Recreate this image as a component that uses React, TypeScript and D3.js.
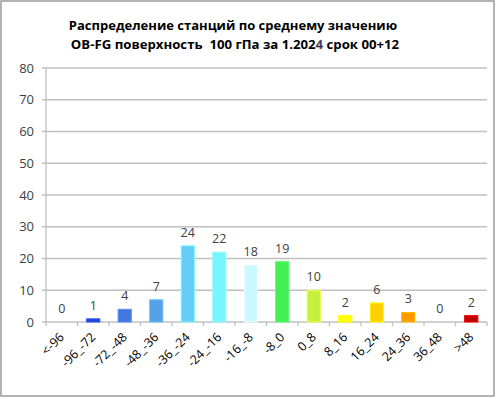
import React, { useEffect, useRef } from "react";
import * as d3 from "d3";

const categories = ["<-96", "-96_-72", "-72_-48", "-48_-36", "-36_-24", "-24_-16", "-16_-8", "-8_0", "0_8", "8_16", "16_24", "24_36", "36_48", ">48"];
const counts = [0, 1, 4, 7, 24, 22, 18, 19, 10, 2, 6, 3, 0, 2];
const barColors = ["#888888", "#2244cc", "#4477dd", "#55a0e6", "#66ccf4", "#78f4fb", "#c8fafd", "#44ee55", "#c6f040", "#ffff00", "#ffd000", "#ff9900", "#888888", "#c00000"];
const yTicks = [0, 10, 20, 30, 40, 50, 60, 70, 80];

const W = 496;
const H = 399;

const App = () => {
  const ref = useRef<SVGSVGElement>(null);

  useEffect(() => {
    const svg = d3.select(ref.current);
    svg.selectAll("*").remove();
    const margin = { top: 68, right: 9, bottom: 77, left: 46 };
    const width = W - margin.left - margin.right;
    const height = H - margin.top - margin.bottom;
    const font = "'Open Sans', sans-serif";

    // outer border
    svg.append("rect")
      .attr("x", 1).attr("y", 1).attr("width", W - 3).attr("height", H - 4)
      .attr("fill", "#fff").attr("stroke", "#9a9a9a").attr("stroke-width", 1.5);

    // title
    svg.append("text")
      .attr("x", 233).attr("y", 30)
      .attr("text-anchor", "middle")
      .attr("font-family", font).attr("font-weight", "bold").attr("font-size", 13)
      .attr("fill", "#000")
      .text("Распределение станций по среднему значению");
    const t2 = svg.append("text")
      .attr("x", 235).attr("y", 49)
      .attr("text-anchor", "middle")
      .attr("font-family", font).attr("font-weight", "bold").attr("font-size", 13.2)
      .attr("fill", "#000");
    t2.append("tspan").text("OB-FG поверхность\u00a0 100 гПа за 1.202");
    t2.append("tspan").attr("fill", "#1d3478").attr("stroke", "#e89020").attr("stroke-width", 0.3).text("4");
    t2.append("tspan").text(" срок 00+12");

    const g = svg.append("g").attr("transform", "translate(" + margin.left + "," + margin.top + ")");

    const x = d3.scaleBand().domain(categories).range([0, width]).paddingInner(0.58).paddingOuter(0.29);
    const y = d3.scaleLinear().domain([0, 80]).range([height, 0]);
    const step = x.step();

    // gridlines
    g.selectAll(".grid")
      .data(yTicks)
      .enter()
      .append("line")
      .attr("x1", -4).attr("x2", width)
      .attr("y1", (d: number) => y(d)).attr("y2", (d: number) => y(d))
      .attr("stroke", "#c0c0c0").attr("stroke-width", 1.3);

    // y axis line
    g.append("line").attr("x1", 0).attr("x2", 0).attr("y1", 0).attr("y2", height)
      .attr("stroke", "#c0c0c0").attr("stroke-width", 1.3);

    // y labels
    g.selectAll(".ylab")
      .data(yTicks)
      .enter()
      .append("text")
      .attr("x", -12).attr("y", (d: number) => y(d)).attr("dy", "0.35em")
      .attr("text-anchor", "end")
      .attr("font-family", font).attr("font-size", 13).attr("fill", "#404040")
      .text((d: number) => d);

    // x ticks
    g.selectAll(".xtick")
      .data(d3.range(categories.length + 1))
      .enter()
      .append("line")
      .attr("x1", (i: number) => i * step).attr("x2", (i: number) => i * step)
      .attr("y1", height).attr("y2", height + 4)
      .attr("stroke", "#c0c0c0").attr("stroke-width", 1.3);

    // bars
    g.selectAll(".bar")
      .data(counts)
      .enter()
      .append("rect")
      .attr("x", (_d: number, i: number) => x(categories[i]) as number)
      .attr("width", x.bandwidth())
      .attr("y", (d: number) => y(d))
      .attr("height", (d: number) => height - y(d))
      .attr("fill", (_d: number, i: number) => barColors[i])
      .attr("stroke", (_d: number, i: number) => d3.color(barColors[i])!.brighter(0.6).formatHex())
      .attr("stroke-width", 1);

    // value labels
    g.selectAll(".val")
      .data(counts)
      .enter()
      .append("text")
      .attr("x", (_d: number, i: number) => (x(categories[i]) as number) + x.bandwidth() / 2)
      .attr("y", (d: number) => y(d) - 9)
      .attr("text-anchor", "middle")
      .attr("font-family", font).attr("font-size", 12.5).attr("fill", "#404040")
      .text((d: number) => d);

    // x labels
    g.selectAll(".xlab")
      .data(categories)
      .enter()
      .append("text")
      .attr("transform", (d: string) => "translate(" + ((x(d) as number) + x.bandwidth() / 2 + 3) + "," + (height + 16) + ") rotate(-45)")
      .attr("text-anchor", "end")
      .attr("font-family", font).attr("font-size", 12.5).attr("fill", "#000")
      .text((d: string) => d);
  }, []);

  return (
    <svg ref={ref} width={W} height={H} style={{ position: "absolute", left: 0, top: 0 }} />
  );
};

export default App;
